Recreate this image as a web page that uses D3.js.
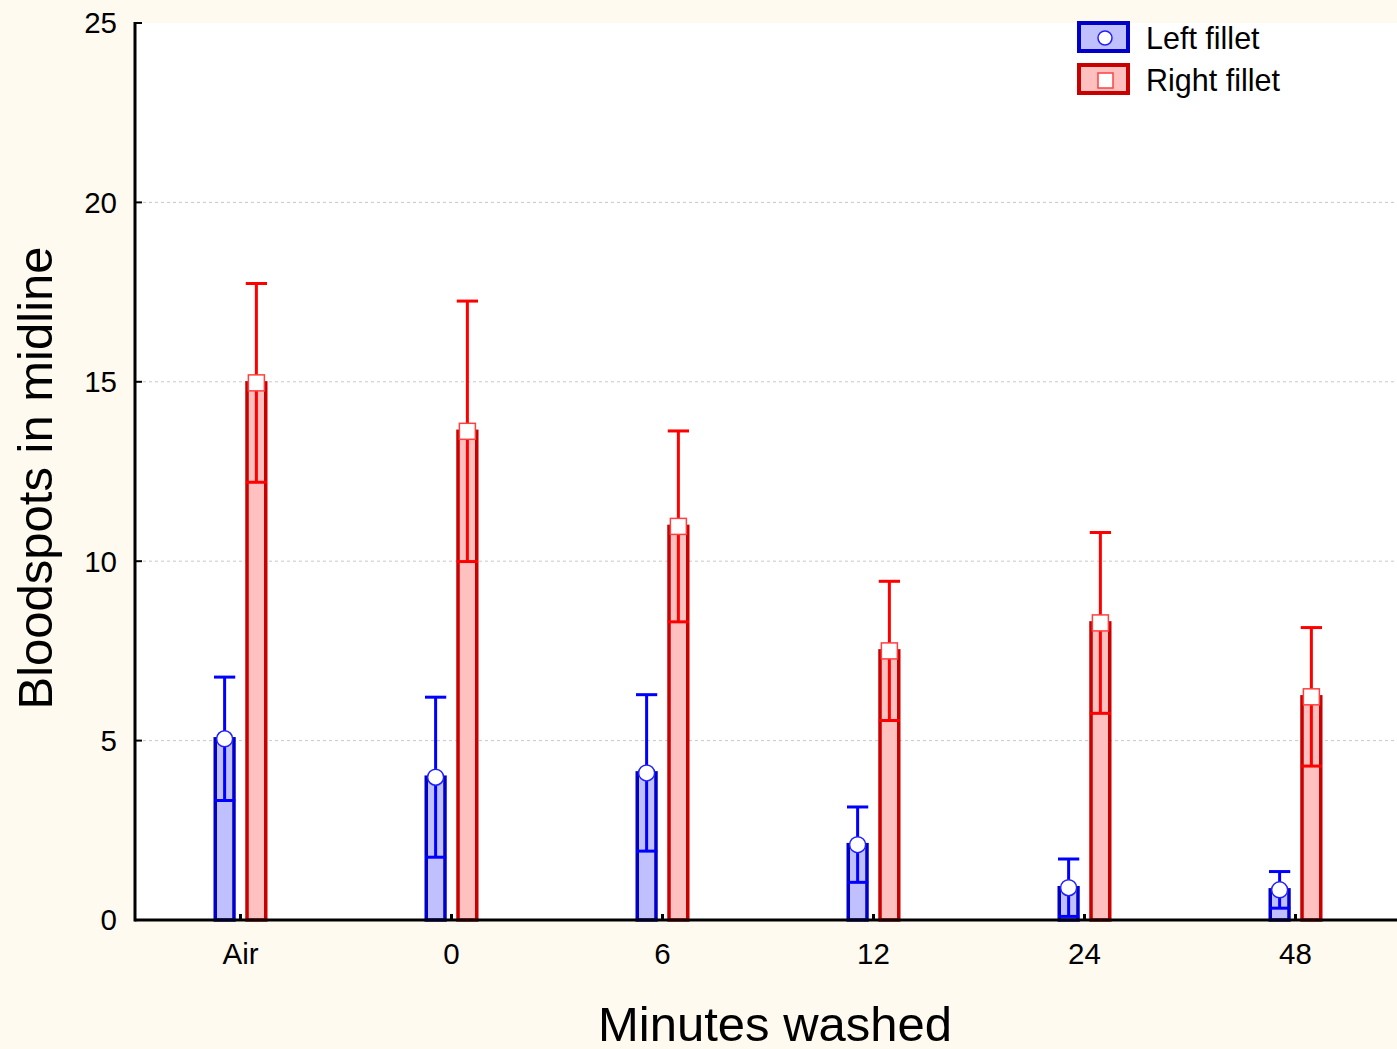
<!DOCTYPE html>
<html>
<head>
<meta charset="utf-8">
<script src="https://cdn.jsdelivr.net/npm/d3@7"></script>
<style>
  html, body { margin: 0; padding: 0; background: #fffaf0; }
  svg { display: block; font-family: "Liberation Sans", Arial, sans-serif; }
</style>
</head>
<body>
<div id="chart"></div>
<script>
// categories and series
const categories = ["Air", "0", "6", "12", "24", "48"];
const seriesNames = ["Left fillet", "Right fillet"];
// means (bar height) and error half-widths
const leftMean  = [5.05, 3.98, 4.10, 2.10, 0.90, 0.84];
const leftErr   = [1.72, 2.23, 2.18, 1.05, 0.80, 0.51];
const rightMean = [14.97, 13.62, 10.97, 7.50, 8.28, 6.22];
const rightErr  = [2.77, 3.63, 2.66, 1.94, 2.52, 1.93];
const yTicks = [0, 5, 10, 15, 20, 25];

const width = 1397, height = 1049;
const plot = { left: 135, top: 23, right: 1401, bottom: 920 };

const svg = d3.select("#chart").append("svg")
  .attr("width", width)
  .attr("height", height);

// background
svg.append("rect").attr("width", width).attr("height", height).attr("fill", "#fffaf0");
svg.append("rect")
  .attr("x", plot.left).attr("y", plot.top)
  .attr("width", width - plot.left).attr("height", plot.bottom - plot.top)
  .attr("fill", "#ffffff");

const x = d3.scaleBand().domain(categories).range([plot.left, plot.right]);
const xSub = d3.scaleBand().domain(seriesNames).range([-27, 27]).paddingInner(0.3);
const y = d3.scaleLinear().domain([0, 25]).range([plot.bottom, plot.top]);

// gridlines
svg.append("g")
  .selectAll("line")
  .data(yTicks.filter(t => t > 0 && t < 25))
  .enter().append("line")
  .attr("x1", plot.left + 2).attr("x2", width)
  .attr("y1", d => y(d)).attr("y2", d => y(d))
  .attr("stroke", "#c8c8c8")
  .attr("stroke-width", 1)
  .attr("stroke-dasharray", "3,3");

const series = [
  { name: seriesNames[0], mean: leftMean, err: leftErr, fill: "#c0c0ff", stroke: "#0000c8", bar: "#0000ff", mark: "circle" },
  { name: seriesNames[1], mean: rightMean, err: rightErr, fill: "#ffc0c0", stroke: "#c80000", bar: "#ff0000", mark: "square" }
];

const bw = xSub.bandwidth();
series.forEach(s => {
  const data = categories.map((c, i) => ({ cat: c, mean: s.mean[i], err: s.err[i] }));
  const cx = d => x(d.cat) + x.bandwidth() / 2 + xSub(s.name) + bw / 2;
  const g = svg.append("g");

  // bars
  g.selectAll("rect.bar")
    .data(data).enter().append("rect")
    .attr("class", "bar")
    .attr("x", d => cx(d) - bw / 2 + 1.75)
    .attr("width", bw - 3.5)
    .attr("y", d => y(d.mean))
    .attr("height", d => y(0) - y(d.mean))
    .attr("fill", s.fill)
    .attr("stroke", s.stroke)
    .attr("stroke-width", 3.5);

  // error bars
  const eb = g.selectAll("g.err").data(data).enter().append("g");
  eb.append("line")
    .attr("x1", cx).attr("x2", cx)
    .attr("y1", d => y(Math.max(0, d.mean - d.err)))
    .attr("y2", d => y(d.mean + d.err))
    .attr("stroke", s.bar).attr("stroke-width", 3);
  [1, -1].forEach(sign => {
    eb.filter(d => d.mean + sign * d.err > 0.05)
      .append("line")
      .attr("x1", d => cx(d) - bw / 2 + 0.5)
      .attr("x2", d => cx(d) + bw / 2 - 0.5)
      .attr("y1", d => y(d.mean + sign * d.err))
      .attr("y2", d => y(d.mean + sign * d.err))
      .attr("stroke", s.bar).attr("stroke-width", 3);
  });

  // markers
  if (s.mark === "circle") {
    g.selectAll("circle.m").data(data).enter().append("circle")
      .attr("cx", cx).attr("cy", d => y(d.mean))
      .attr("r", 8)
      .attr("fill", "#ffffff").attr("stroke", "#2020ff").attr("stroke-width", 1.5);
  } else {
    g.selectAll("rect.m").data(data).enter().append("rect")
      .attr("x", d => cx(d) - 8).attr("y", d => y(d.mean) - 8)
      .attr("width", 16).attr("height", 16)
      .attr("fill", "#ffffff").attr("stroke", "#ff4040").attr("stroke-width", 1.5);
  }
});

// axes lines
svg.append("line")
  .attr("x1", plot.left).attr("x2", plot.left)
  .attr("y1", plot.top - 1).attr("y2", plot.bottom + 1.5)
  .attr("stroke", "#000").attr("stroke-width", 3);
svg.append("line")
  .attr("x1", plot.left).attr("x2", width)
  .attr("y1", plot.bottom).attr("y2", plot.bottom)
  .attr("stroke", "#000").attr("stroke-width", 3);

// y ticks (inward) and labels
const yt = svg.append("g").selectAll("g").data(yTicks).enter().append("g");
yt.append("line")
  .attr("x1", plot.left).attr("x2", plot.left + 7)
  .attr("y1", d => y(d)).attr("y2", d => y(d))
  .attr("stroke", "#000").attr("stroke-width", 2);
yt.append("text")
  .attr("x", 117).attr("y", d => y(d))
  .attr("dy", "0.35em")
  .attr("text-anchor", "end")
  .attr("font-size", 29.5)
  .attr("fill", "#000")
  .text(d => d);

// x ticks (inward) and labels
const xt = svg.append("g").selectAll("g").data(categories).enter().append("g");
xt.append("line")
  .attr("x1", d => x(d) + x.bandwidth() / 2).attr("x2", d => x(d) + x.bandwidth() / 2)
  .attr("y1", plot.bottom).attr("y2", plot.bottom - 6)
  .attr("stroke", "#000").attr("stroke-width", 3);
xt.append("text")
  .attr("x", d => x(d) + x.bandwidth() / 2)
  .attr("y", 954)
  .attr("dy", "0.35em")
  .attr("text-anchor", "middle")
  .attr("font-size", 29.5)
  .attr("fill", "#000")
  .text(d => d);

// axis titles
svg.append("text")
  .attr("x", 775).attr("y", 1041)
  .attr("text-anchor", "middle")
  .attr("font-size", 49)
  .attr("fill", "#000")
  .text("Minutes washed");
svg.append("text")
  .attr("transform", "translate(52,478) rotate(-90)")
  .attr("text-anchor", "middle")
  .attr("font-size", 49)
  .attr("fill", "#000")
  .text("Bloodspots in midline");

// legend
const legend = svg.append("g").attr("transform", "translate(1079,23)");
series.forEach((s, i) => {
  const ly = i * 42;
  legend.append("rect")
    .attr("x", 0).attr("y", ly)
    .attr("width", 49).attr("height", 28)
    .attr("fill", s.fill).attr("stroke", s.stroke).attr("stroke-width", 4);
  if (s.mark === "circle") {
    legend.append("circle")
      .attr("cx", 26).attr("cy", ly + 15).attr("r", 7)
      .attr("fill", "#ffffff").attr("stroke", "#2020ff").attr("stroke-width", 1.5);
  } else {
    legend.append("rect")
      .attr("x", 19).attr("y", ly + 8).attr("width", 15).attr("height", 15)
      .attr("fill", "#ffffff").attr("stroke", "#ff4040").attr("stroke-width", 1.5);
  }
  legend.append("text")
    .attr("x", 67).attr("y", ly + 15)
    .attr("dy", "0.35em")
    .attr("font-size", 30.5)
    .attr("fill", "#000")
    .text(s.name);
});
</script>
</body>
</html>
